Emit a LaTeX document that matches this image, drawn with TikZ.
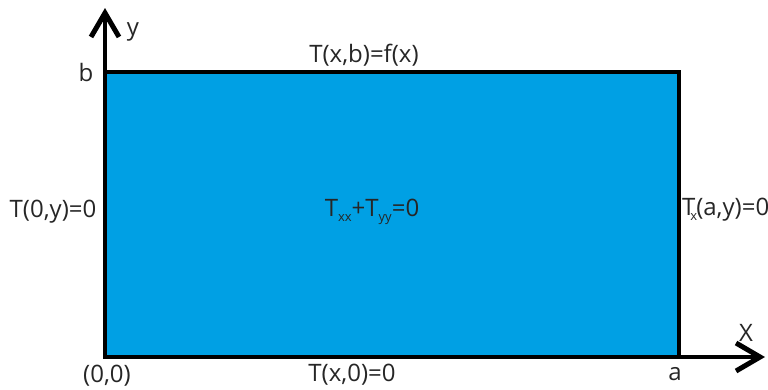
\documentclass[tikz,border=0pt]{standalone}
\usepackage{fontspec}
\setmainfont{Open Sans}
\usetikzlibrary{arrows.meta}
\definecolor{plate}{HTML}{00A0E4}
\definecolor{ink}{HTML}{262626}
\newcommand{\sbs}[1]{\raisebox{-0.4ex}{\fontsize{13}{13}\selectfont #1}}

\begin{document}
\begin{tikzpicture}[x=1pt, y=-1pt,
  lbl/.style={font=\fontsize{24}{24}\selectfont, text=ink, inner sep=0pt},
  axis/.style={line width=4.5pt, -{Straight Barb[length=24pt,width=28pt,line width=5pt]}}]
\useasboundingbox (0,0) rectangle (768,389);
% corners and axis ends
\coordinate (O) at (105,357);
\coordinate (C) at (679,72);
\coordinate (ytip) at (105,8);
\coordinate (xtip) at (765,357);
% plate
\filldraw[fill=plate, line width=4.5pt] (O) rectangle (C);
\draw[axis] (O) -- (ytip);
\draw[axis] (O) -- (xtip);
% labels
\node[lbl] (ylab) at (133,32) {y};
\node[lbl] (blab) at (86,72) {b};
\node[lbl] (top) at (364,55) {T(x,b)=f(x)};
\node[lbl] (left) at (53,212) {T(0,y)=0};
\node[lbl] (pde) at (372,212) {T\sbs{xx}+T\sbs{yy}=0};
\node[lbl, anchor=west] (right) at (682,210) {T\kern-5pt\sbs{x}\kern-1pt(a,y)=0};
\node[lbl] (xlab) at (746,333) {X};
\node[lbl] (alab) at (675,374) {a};
\node[lbl] (orig) at (107,376) {(0,0)};
\node[lbl] (bot) at (352,375) {T(x,0)=0};
\end{tikzpicture}
\end{document}
